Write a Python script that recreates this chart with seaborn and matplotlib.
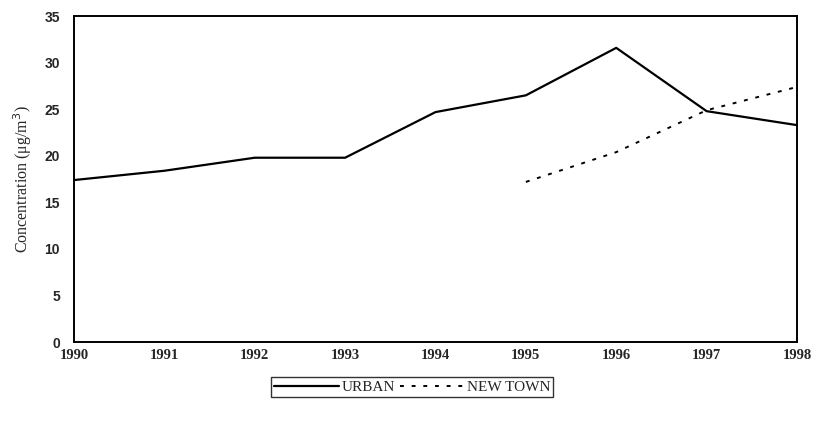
import matplotlib
matplotlib.use("Agg")
import matplotlib.pyplot as plt
import seaborn as sns
import pandas as pd

years = [1990, 1991, 1992, 1993, 1994, 1995, 1996, 1997, 1998]
urban = [17.4, 18.4, 19.8, 19.8, 24.7, 26.5, 31.6, 24.8, 23.3]
newtown_years = [1995, 1996, 1997, 1998]
newtown = [17.2, 20.4, 24.9, 27.4]
yticks = [0, 5, 10, 15, 20, 25, 30, 35]

sns.set_theme(style="white")
plt.rcParams['font.family'] = ['Liberation Serif', 'DejaVu Serif']

fig = plt.figure(figsize=(8.16, 4.26), dpi=100)
ax = fig.add_axes([0.0907, 0.197, 0.886, 0.765])

df_u = pd.DataFrame({"year": years, "val": urban})
df_n = pd.DataFrame({"year": newtown_years, "val": newtown})
sns.lineplot(data=df_u, x="year", y="val", ax=ax, color="black", lw=1.6, label="URBAN")
sns.lineplot(data=df_n, x="year", y="val", ax=ax, color="black", lw=1.4,
             linestyle=(0, (2, 4)), label="NEW TOWN")

ax.set_xlim(1990, 1998)
ax.set_ylim(0, 35)
ax.set_xticks(years)
ax.set_xticklabels([str(y) for y in years], fontsize=10.5, family='Liberation Serif', fontweight='bold')
ax.set_yticks(yticks)
ax.set_yticklabels([str(v) for v in yticks], fontsize=10, family='Liberation Sans', fontweight='bold')
ax.tick_params(axis='y', length=0, pad=10)
ax.tick_params(axis='x', length=0, pad=5)
ax.set_xlabel("")
ax.set_ylabel("Concentration (\u03bcg/m$^3$)", fontsize=11.5, family='Liberation Serif', labelpad=8)
for s in ax.spines.values():
    s.set_color("black")
    s.set_linewidth(1.4)

leg = ax.legend(loc="upper center", bbox_to_anchor=(0.468, -0.085), ncol=2, frameon=True,
                fancybox=False, edgecolor="black", fontsize=11, handlelength=4.2,
                columnspacing=0.3, handletextpad=0.2, borderpad=0.2)
leg.get_frame().set_linewidth(1.0)

fig.savefig("out.png", dpi=100)
